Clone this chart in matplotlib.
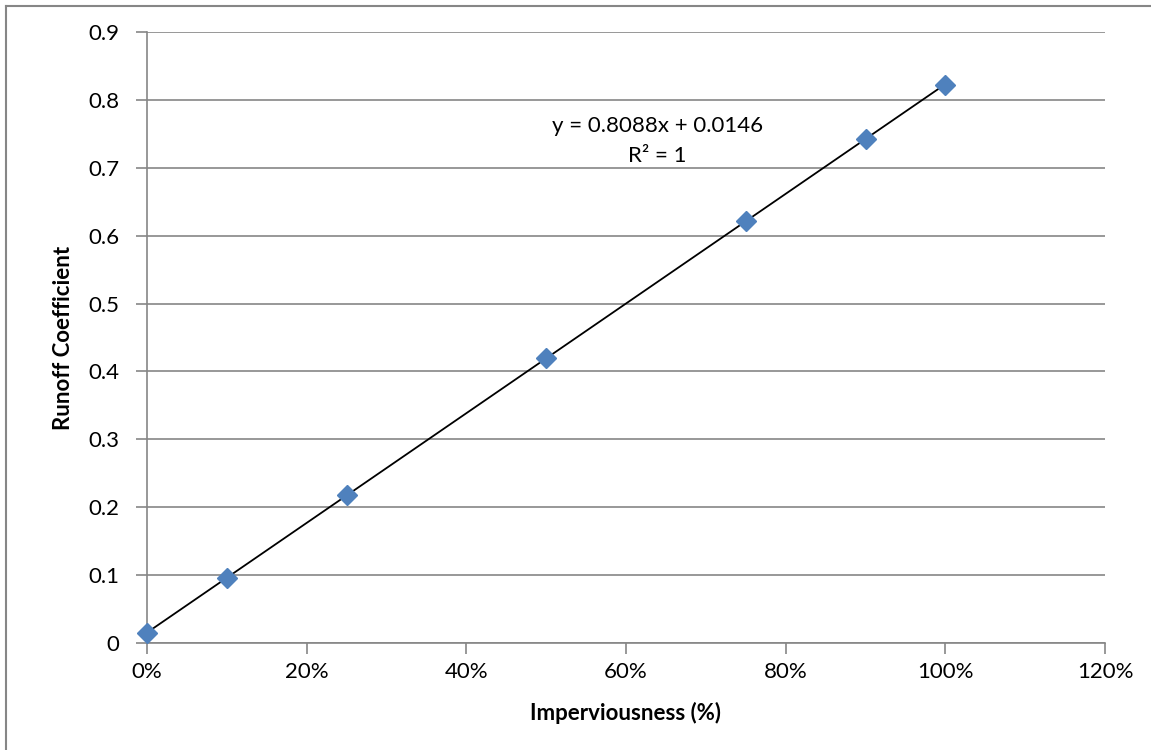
import numpy as np
import matplotlib
matplotlib.use('Agg')
import matplotlib.pyplot as plt
from matplotlib.ticker import FuncFormatter
from matplotlib.lines import Line2D

# imperviousness fraction vs runoff coefficient
imperv = [0.0, 0.10, 0.25, 0.50, 0.75, 0.90, 1.00]
runoff = [0.0146, 0.0955, 0.2185, 0.4200, 0.6212, 0.7425, 0.8225]
eq_text = 'y = 0.8088x + 0.0146'
r2_text = 'R² = 1'

slope, intercept = np.polyfit(imperv, runoff, 1)

plt.rcParams['font.family'] = ['Lato', 'DejaVu Sans']
grey = '#868686'
fs = 16

fig = plt.figure(figsize=(11.51, 7.5), dpi=100)
ax = fig.add_axes([147/1151, 1 - 643/750, (1105 - 147)/1151, (643 - 32)/750])

ax.grid(axis='y', color=grey, linewidth=1.2, zorder=0)
ax.set_axisbelow(True)

xs = np.array([0.0, 1.0])
ax.plot(xs, slope*xs + intercept, color='black', linewidth=1.3, zorder=2)
ax.plot(imperv, runoff, linestyle='none', marker='D', markersize=10,
        color='#4F81BD', markeredgecolor='#4F81BD', zorder=3, clip_on=False)

ax.set_xlim(0, 1.2)
ax.set_ylim(0, 0.9)
ax.set_xticks(np.arange(0, 1.21, 0.2))
ax.set_yticks(np.arange(0, 0.91, 0.1))
ax.xaxis.set_major_formatter(FuncFormatter(lambda v, p: '%d%%' % round(v*100)))
ax.yaxis.set_major_formatter(FuncFormatter(lambda v, p: '0' if abs(v) < 1e-9 else '%.1f' % v))

for s in ['top', 'right']:
    ax.spines[s].set_visible(False)
for s in ['left', 'bottom']:
    ax.spines[s].set_color(grey)
    ax.spines[s].set_linewidth(1.2)
ax.tick_params(axis='both', colors=grey, labelcolor='black', labelsize=fs,
               length=8, width=1.2, direction='out')
ax.tick_params(axis='x', pad=6)
ax.tick_params(axis='y', pad=12)

ax.set_xlabel('Imperviousness (%)', fontsize=fs, fontweight='bold', labelpad=14)
ax.set_ylabel('Runoff Coefficient', fontsize=fs, fontweight='bold', labelpad=10)

ax.text(0.639, 0.761, eq_text, ha='center', va='center', fontsize=fs)
ax.text(0.639, 0.718, r2_text, ha='center', va='center', fontsize=fs)

# chart area border (top and left visible)
fig.add_artist(Line2D([6/1151, 1], [1 - 6/750, 1 - 6/750], color=grey, linewidth=1.5, transform=fig.transFigure))
fig.add_artist(Line2D([6/1151, 6/1151], [0, 1 - 6/750], color=grey, linewidth=1.5, transform=fig.transFigure))

fig.savefig('out.png', dpi=100)
